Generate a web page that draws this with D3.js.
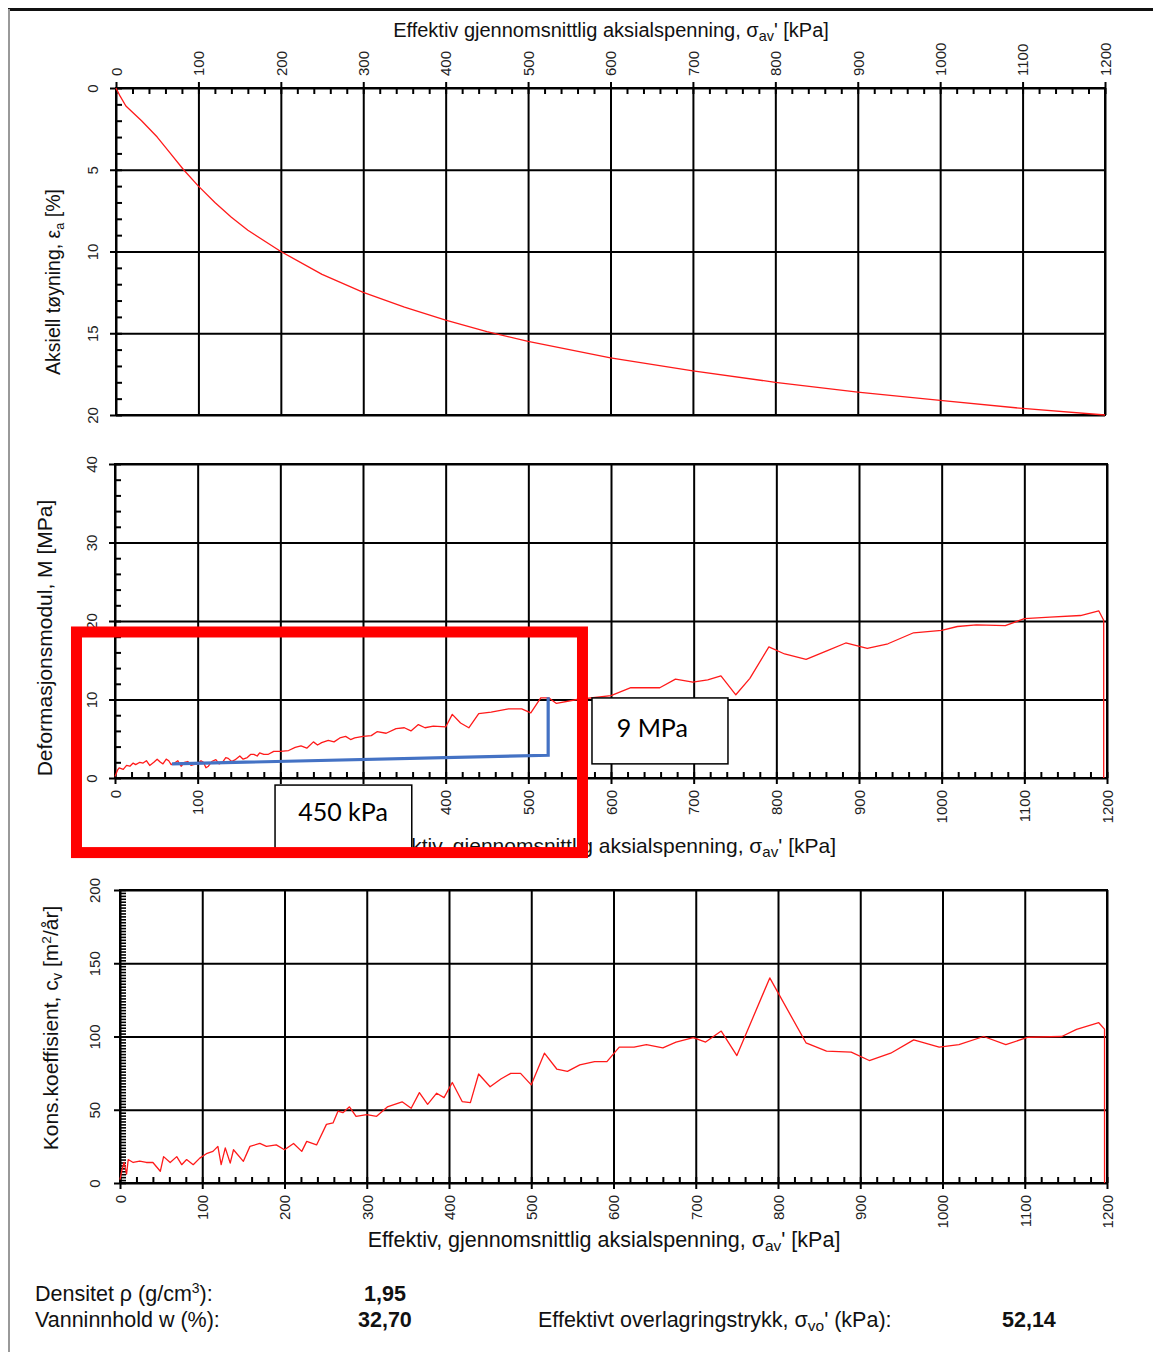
<!DOCTYPE html>
<html>
<head>
<meta charset="utf-8">
<script src="https://cdn.jsdelivr.net/npm/d3@7"></script>
<style>
  body { margin: 0; background: #fff; }
  text { font-family: "Liberation Sans", Arial, sans-serif; }
</style>
</head>
<body>
<div id="chart"></div>
<script>
/* Data */
var stressTicks = d3.range(0, 1201, 100);
var strainTicks = [0, 5, 10, 15, 20];
var modulusTicks = [0, 10, 20, 30, 40];
var cvTicks = [0, 50, 100, 150, 200];

// [kPa, %]
var strainPoints = [[0, 0], [5, 0.5], [12, 1.1], [31, 2], [50, 3], [66, 4], [82, 5], [100, 6], [120, 7], [140, 7.9], [160, 8.7],
  [200, 10], [250, 11.4], [300, 12.5], [350, 13.4], [400, 14.2], [450, 14.9], [500, 15.5], [600, 16.5],
  [700, 17.3], [800, 18.0], [900, 18.6], [1000, 19.1], [1100, 19.6], [1200, 20.0]];

// [kPa, MPa]
var modulusPoints = [[0, 0.2], [3, 1.0], [5, 1.3], [10, 1.1], [14, 1.6], [18, 1.5], [22, 1.9], [25, 1.7], [30, 2.0],
  [34, 1.9], [38, 2.2], [42, 1.6], [47, 2.0], [51, 2.4], [55, 2.0], [58, 1.8], [62, 2.4], [65, 2.2], [68, 1.7],
  [72, 1.9], [76, 2.2], [80, 1.5], [84, 2.0], [88, 2.1], [92, 1.6], [95, 1.7], [100, 1.8], [104, 2.2], [107, 2.0],
  [110, 1.3], [113, 1.5], [117, 2.1], [122, 2.35], [126, 1.8], [130, 2.0], [134, 2.6], [137, 2.5], [141, 2.1],
  [145, 2.3], [151, 2.8], [155, 2.4], [160, 2.6], [164, 3.0], [168, 3.0], [172, 2.8], [175, 3.2], [180, 3.0],
  [185, 3.0], [192, 3.4], [200, 3.4], [210, 3.5], [218, 3.9], [225, 4.1], [232, 3.8], [240, 4.6], [245, 4.2],
  [250, 4.5], [258, 4.8], [265, 4.6], [272, 5.1], [279, 5.3], [285, 4.9], [290, 5.1], [300, 5.3], [310, 5.4],
  [317, 5.9], [328, 5.7], [340, 6.3], [350, 6.4], [358, 6.0], [367, 6.8], [375, 6.4], [385, 6.6], [400, 6.5],
  [408, 8.1], [418, 7.0], [428, 6.4], [440, 8.2], [455, 8.4], [476, 8.8], [492, 8.8], [503, 8.3], [515, 10.2],
  [525, 10.2], [534, 9.5], [559, 10.0], [600, 10.5], [624, 11.5], [659, 11.5], [678, 12.6], [699, 12.2],
  [717, 12.5], [733, 13.0], [751, 10.6], [768, 12.7], [791, 16.7], [810, 15.8], [836, 15.1], [861, 16.2],
  [884, 17.2], [910, 16.5], [935, 17.1], [966, 18.5], [1000, 18.8], [1019, 19.3], [1042, 19.5], [1077, 19.4],
  [1100, 20.3], [1131, 20.5], [1168, 20.7], [1190, 21.3], [1196, 20.1], [1196, 0]];

// [kPa, m2/aar]
var cvPoints = [[0, 2.3], [2, 8], [5, 14], [8, 6], [10, 16], [16, 14], [24, 15], [32, 14], [40, 14], [49, 8],
  [53, 18], [61, 14], [69, 18], [75, 12.5], [81, 16], [89, 12.5], [97, 17], [105, 20], [113, 21.6], [119, 25],
  [123, 12.5], [128, 24], [134, 13.6], [138, 22.7], [150, 14.8], [158, 25], [170, 27], [178, 25], [190, 26],
  [200, 22.7], [211, 27], [221, 21.6], [227, 28.4], [239, 26], [251, 40], [259, 41], [265, 49], [271, 48],
  [279, 52], [287, 45.5], [300, 46.6], [312, 45.5], [325, 51.9], [343, 55.4], [354, 51], [364, 61.7],
  [374, 53.7], [385, 61.3], [394, 58.3], [404, 68.6], [416, 55.6], [426, 54.9], [436, 74.4], [450, 65.7],
  [463, 71], [475, 74.8], [487, 74.8], [500, 67], [516, 88.6], [531, 77.8], [544, 76.2], [559, 80.6],
  [577, 82.8], [592, 82.8], [607, 92.7], [625, 92.7], [640, 94.4], [660, 92.3], [676, 96.2], [697, 99.2],
  [712, 96.2], [731, 103.7], [750, 87], [790, 140], [834, 95.7], [859, 90], [889, 89.3], [911, 83.6],
  [937, 88.6], [965, 97.7], [996, 92.7], [1020, 94.4], [1050, 100], [1077, 94.4], [1104, 99.5], [1145, 100],
  [1163, 104.9], [1190, 109.4], [1197, 105], [1197, 0]];

// annotation (kPa / MPa in panel 2)
var slopeLine = [[69, 1.8], [524, 2.9], [524, 10.3]];
var labelStress = "450 kPa";
var labelModulus = "9 MPa";

/* Setup */
var width = 1153, height = 1352;
var svg = d3.select("#chart").append("svg")
    .attr("width", width)
    .attr("height", height);

svg.append("rect").attr("width", width).attr("height", height).attr("fill", "#fff");
// page frame
svg.append("line").attr("x1", 8).attr("x2", width).attr("y1", 9.5).attr("y2", 9.5)
    .attr("stroke", "#111").attr("stroke-width", 3);
svg.append("line").attr("x1", 9).attr("x2", 9).attr("y1", 9).attr("y2", height)
    .attr("stroke", "#999").attr("stroke-width", 2);

function styleAxis(g) {
    g.attr("font-size", 15).attr("font-family", '"Liberation Sans", Arial, sans-serif').style("color", "#000");
    g.select(".domain").remove();
    g.selectAll("text").attr("fill", "#222");
}

function drawPanel(p) {
    var x = d3.scaleLinear().domain([0, 1200]).range([p.x0, p.x1]);
    var y = d3.scaleLinear().domain(p.yDomain).range([p.yTop, p.yBottom]);
    var w = p.x1 - p.x0, h = p.yBottom - p.yTop;
    var axisPos = p.top ? p.yTop : p.yBottom;
    var g = svg.append("g");

    // minor ticks
    g.append("g").attr("transform", "translate(0," + axisPos + ")")
        .call((p.top ? d3.axisTop(x) : d3.axisBottom(x)).tickValues(d3.range(0, 1201, 20)).tickSize(-6).tickFormat(""))
        .call(styleAxis)
        .selectAll("line").attr("stroke-width", 2);
    g.append("g").attr("transform", "translate(" + p.x0 + ",0)")
        .call(d3.axisLeft(y).tickValues(d3.range(0, p.yMax + 0.001, p.yMinor)).tickSize(-6).tickFormat(""))
        .call(styleAxis)
        .selectAll("line").attr("stroke-width", p.yMinorWidth || 2);

    // major grid + labels
    var gx = g.append("g").attr("transform", "translate(0," + axisPos + ")")
        .call((p.top ? d3.axisTop(x) : d3.axisBottom(x)).tickValues(stressTicks).tickSize(-h).tickSizeOuter(0)
            .tickFormat(d3.format("d")))
        .call(styleAxis);
    gx.selectAll(".tick line").attr("y1", p.top ? -6 : 6).attr("stroke-width", 2);
    gx.selectAll(".tick text")
        .attr("transform", "rotate(-90)")
        .attr("x", p.top ? 12 : -12).attr("y", 0).attr("dy", "0.35em")
        .style("text-anchor", p.top ? "start" : "end");

    var gy = g.append("g").attr("transform", "translate(" + p.x0 + ",0)")
        .call(d3.axisLeft(y).tickValues(p.yTicks).tickSize(-w).tickSizeOuter(0).tickFormat(d3.format("d")))
        .call(styleAxis);
    gy.selectAll(".tick line").attr("x1", -6).attr("stroke-width", 2);
    gy.selectAll(".tick text")
        .attr("transform", "rotate(-90)")
        .attr("x", 0).attr("y", p.yLabelOff).attr("dy", 0)
        .style("text-anchor", "middle");

    // frame
    g.append("rect").attr("x", p.x0).attr("y", p.yTop).attr("width", w).attr("height", h)
        .attr("fill", "none").attr("stroke", "#000").attr("stroke-width", 2);

    // curve
    var line = d3.line().x(function (d) { return x(d[0]); }).y(function (d) { return y(d[1]); });
    g.append("path").datum(p.points).attr("d", line)
        .attr("fill", "none").attr("stroke", "#ff1a1a").attr("stroke-width", 1.3)
        .attr("stroke-linejoin", "round");

    return { x: x, y: y, g: g };
}

var p1 = drawPanel({ x0: 116, x1: 1105, yTop: 88, yBottom: 415, yDomain: [0, 20], yMax: 20, yMinor: 1,
    yTicks: strainTicks, top: true, yLabelOff: -18, points: strainPoints });
var p2 = drawPanel({ x0: 115, x1: 1107, yTop: 464, yBottom: 778, yDomain: [40, 0], yMax: 40, yMinor: 2,
    yTicks: modulusTicks, top: false, yLabelOff: -18, points: modulusPoints });
var p3 = drawPanel({ x0: 120, x1: 1107, yTop: 890, yBottom: 1183, yDomain: [200, 0], yMax: 200, yMinor: 2,
    yMinorWidth: 1.6, yTicks: cvTicks, top: false, yLabelOff: -20, points: cvPoints });

/* Titles */
function sigmaTitle(sel, before, sub, after) {
    sel.append("tspan").text(before);
    sel.append("tspan").attr("dy", 4).attr("font-size", "0.72em").text(sub);
    sel.append("tspan").attr("dy", -4).text(after);
}

svg.append("text").attr("x", 611).attr("y", 37).attr("text-anchor", "middle")
    .attr("font-size", 20).attr("fill", "#111")
    .call(sigmaTitle, "Effektiv gjennomsnittlig aksialspenning, σ", "av", "'  [kPa]");
svg.append("text").attr("x", 836).attr("y", 853).attr("text-anchor", "end")
    .attr("font-size", 21).attr("fill", "#111")
    .call(sigmaTitle, "Effektiv, gjennomsnittlig aksialspenning, σ", "av", "'  [kPa]");
svg.append("text").attr("x", 604).attr("y", 1247).attr("text-anchor", "middle")
    .attr("font-size", 21.5).attr("fill", "#111")
    .call(sigmaTitle, "Effektiv, gjennomsnittlig aksialspenning, σ", "av", "'  [kPa]");

function yTitle(cx, cy, size, fn) {
    svg.append("text").attr("transform", "translate(" + cx + "," + cy + ") rotate(-90)")
        .attr("text-anchor", "middle").attr("font-size", size).attr("fill", "#111").call(fn);
}
yTitle(60, 282, 19.5, function (t) {
    t.append("tspan").text("Aksiell tøyning, ε");
    t.append("tspan").attr("dy", 4).attr("font-size", "0.65em").text("a");
    t.append("tspan").attr("dy", -4).text("  [%]");
});
yTitle(52, 638, 21, function (t) { t.text("Deformasjonsmodul, M [MPa]"); });
yTitle(58, 1028, 21, function (t) {
    t.append("tspan").text("Kons.koeffisient, c");
    t.append("tspan").attr("dy", 4).attr("font-size", "0.7em").text("v");
    t.append("tspan").attr("dy", -4).text(" [m");
    t.append("tspan").attr("dy", -7).attr("font-size", "0.65em").text("2");
    t.append("tspan").attr("dy", 7).text("/år]");
});

/* Footer */
var foot = svg.append("g").attr("font-size", 21.5).attr("fill", "#111");
var r1 = foot.append("text").attr("x", 35).attr("y", 1301);
r1.append("tspan").text("Densitet ρ (g/cm");
r1.append("tspan").attr("dy", -8).attr("font-size", "0.65em").text("3");
r1.append("tspan").attr("dy", 8).text("):");
foot.append("text").attr("x", 364).attr("y", 1301).attr("font-weight", "bold").text("1,95");
foot.append("text").attr("x", 35).attr("y", 1327).text("Vanninnhold w (%):");
foot.append("text").attr("x", 358).attr("y", 1327).attr("font-weight", "bold").text("32,70");
foot.append("text").attr("x", 538).attr("y", 1327)
    .call(sigmaTitle, "Effektivt overlagringstrykk, σ", "vo", "' (kPa):");
foot.append("text").attr("x", 1002).attr("y", 1327).attr("font-weight", "bold").text("52,14");

/* Annotations on panel 2 */
var ax = p2.x, ay = p2.y;
var ann = svg.append("g");

ann.append("path").datum(slopeLine)
    .attr("d", d3.line().x(function (d) { return ax(d[0]); }).y(function (d) { return ay(d[1]); }))
    .attr("fill", "none").attr("stroke", "#4472c4").attr("stroke-width", 3.2);

ann.append("rect").attr("x", ax(577)).attr("y", ay(10.2))
    .attr("width", ax(741.5) - ax(577)).attr("height", ay(1.8) - ay(10.2))
    .attr("fill", "#fff").attr("stroke", "#000").attr("stroke-width", 1.5);
ann.append("text").attr("x", ax(650)).attr("y", ay(6.4)).attr("dy", "0.35em").attr("text-anchor", "middle")
    .attr("font-size", 25).style("font-family", "Lato, 'Open Sans', sans-serif").text(labelModulus);

ann.append("rect").attr("x", ax(193.6)).attr("y", ay(-0.9))
    .attr("width", ax(359) - ax(193.6)).attr("height", ay(-9.5) - ay(-0.9))
    .attr("fill", "#fff").attr("stroke", "#000").attr("stroke-width", 1.5);
ann.append("text").attr("x", ax(275.8)).attr("y", ay(-4.4)).attr("dy", "0.35em").attr("text-anchor", "middle")
    .attr("font-size", 25).style("font-family", "Lato, 'Open Sans', sans-serif").text(labelStress);

ann.append("rect").attr("x", ax(-46.6)).attr("y", ay(18.6))
    .attr("width", ax(565.5) - ax(-46.6)).attr("height", ay(-9.5) - ay(-0.9) + ay(-0.9) - ay(18.6))
    .attr("fill", "none").attr("stroke", "#ff0000").attr("stroke-width", 11);
</script>
</body>
</html>
